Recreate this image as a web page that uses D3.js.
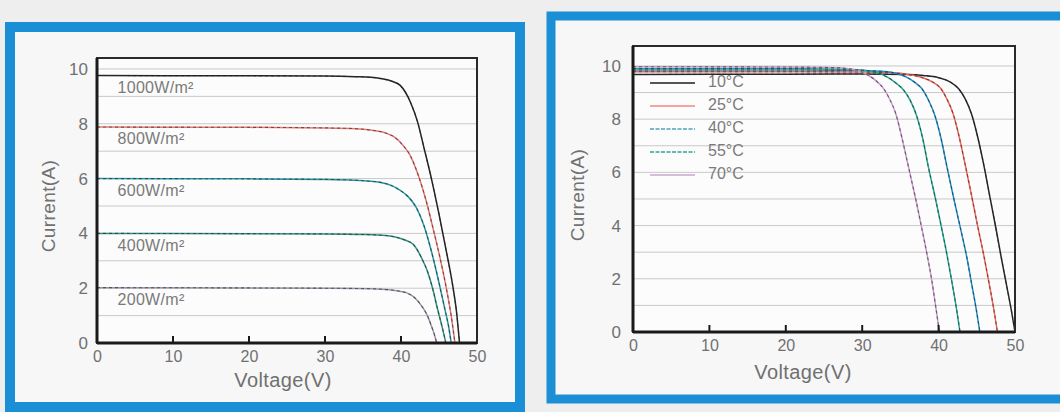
<!DOCTYPE html>
<html><head><meta charset="utf-8">
<script src="https://cdn.jsdelivr.net/npm/d3@7"></script>
<style>
html,body{margin:0;padding:0;background:#ececec;}
svg{display:block;font-family:"Liberation Sans",Arial,sans-serif;}
</style></head>
<body><svg id="c" width="1060" height="412"></svg>
<script>
// ---------- data ----------
const voltageTicks = [0, 10, 20, 30, 40, 50];
const currentTicks = [0, 2, 4, 6, 8, 10];
const gridValues = [1, 2, 3, 4, 5, 6, 7, 8, 9, 10];

const irradianceLabels = ["1000W/m²", "800W/m²", "600W/m²", "400W/m²", "200W/m²"];
const irradianceIsc = [9.76, 7.88, 6.0, 4.0, 2.02];
const irr1000 = [[0,9.76],[20,9.75],[30,9.74],[34,9.72],[36,9.7],[37.5,9.64],[38.8,9.55],[39.9,9.4],[41.3,8.75],[42.2,8.05],[43,7.15],[44,6.0],[45,4.7],[46,3.3],[46.8,2.1],[47.3,1.15],[47.7,0]];
const irr800 = [[0,7.88],[20,7.87],[30,7.85],[34,7.82],[36,7.77],[37.8,7.68],[39.2,7.5],[40.3,7.2],[41.2,6.85],[42.3,6.1],[43.3,5.2],[44.2,4.2],[45.1,3.15],[46,1.95],[46.6,1.0],[47.1,0]];
const irr600 = [[0,6.0],[20,5.99],[30,5.97],[34,5.94],[36,5.9],[37.5,5.85],[38.7,5.75],[40,5.55],[40.9,5.35],[42,4.95],[43,4.3],[44,3.35],[45,2.2],[45.8,1.2],[46.3,0.55],[46.6,0]];
const irr400 = [[0,4.0],[20,3.99],[30,3.98],[35,3.96],[38,3.92],[39.5,3.85],[40.5,3.76],[41.6,3.6],[42.8,3.05],[43.5,2.6],[44.2,1.95],[44.8,1.25],[45.4,0.6],[45.9,0]];
const irr200 = [[0,2.02],[20,2.01],[30,2.0],[36,1.98],[38.5,1.94],[40,1.88],[41,1.8],[42,1.6],[42.8,1.32],[43.5,0.98],[44,0.62],[44.4,0.3],[44.7,0]];
const irradianceColors = ["#262626", "#e8776f", "#2497a6", "#2f8f80", "#9d92a8"];

const temperatureLabels = ["10°C", "25°C", "40°C", "55°C", "70°C"];
const temp10 = [[0,9.68],[20,9.69],[30,9.7],[36,9.68],[38,9.64],[40,9.56],[41.5,9.4],[42.6,9.15],[43.5,8.75],[44.3,8.2],[45.1,7.35],[45.9,6.3],[46.7,5.1],[47.5,3.9],[48.2,2.8],[48.9,1.75],[49.5,0.85],[50,0]];
const temp25 = [[0,9.78],[20,9.78],[30,9.77],[34,9.74],[36,9.68],[38,9.55],[39.2,9.4],[40.3,9.15],[41.1,8.75],[41.9,8.2],[42.6,7.45],[43.4,6.4],[44.3,5.15],[45.1,4.0],[45.9,2.9],[46.6,1.85],[47.2,0.9],[47.7,0]];
const temp40 = [[0,9.85],[20,9.85],[30,9.83],[33,9.79],[34.5,9.72],[35.8,9.58],[36.9,9.38],[37.8,9.15],[38.7,8.7],[39.5,8.15],[40.3,7.3],[41.1,6.2],[42,5.0],[42.9,3.85],[43.7,2.8],[44.3,1.85],[44.9,0.9],[45.4,0]];
const temp55 = [[0,9.9],[20,9.9],[28,9.88],[30.5,9.83],[32,9.74],[33.3,9.58],[34.4,9.36],[35.4,9.1],[36.3,8.7],[37.1,8.15],[37.9,7.3],[38.7,6.15],[39.6,5.0],[40.4,3.9],[41.1,2.9],[41.7,1.95],[42.3,0.95],[42.8,0]];
const temp70 = [[0,9.97],[20,9.96],[26,9.94],[28,9.9],[29.5,9.82],[30.8,9.65],[31.9,9.42],[32.8,9.15],[33.6,8.75],[34.4,8.2],[35.2,7.3],[36.1,6.15],[37,5.0],[37.8,3.9],[38.5,2.9],[39.1,1.95],[39.6,1.0],[40.1,0]];
const temperatureColors = ["#2a2a2a", "#f0645a", "#1f8fc8", "#1fa68f", "#c99bcc"];
const legendColors = ["#555555", "#f08a80", "#4aa3b5", "#2aa596", "#c9a9cf"];

// ---------- drawing ----------
const svg = d3.select("#c");
svg.append("rect").attr("x",0).attr("y",0).attr("width",1060).attr("height",412).attr("fill","#eeeeee");

// blue frames
svg.append("rect").attr("x",10).attr("y",27).attr("width",510).attr("height",380)
  .attr("fill","#f7f7f7").attr("stroke","#1b8fd6").attr("stroke-width",10);
svg.append("rect").attr("x",551).attr("y",16).attr("width",515).attr("height",383)
  .attr("fill","#f7f7f7").attr("stroke","#1b8fd6").attr("stroke-width",9);

const textColor = "#707070";

function drawPanel(cfg) {
  const x = d3.scaleLinear().domain([0,50]).range(cfg.xr);
  const y = d3.scaleLinear().domain([0,cfg.ymax]).range(cfg.yr);
  const g = svg.append("g");
  const [x0,x1] = cfg.xr, [y0,y1] = cfg.yr;
  g.append("rect").attr("x",x0).attr("y",y1).attr("width",x1-x0).attr("height",y0-y1).attr("fill","#fcfcfc");
  g.selectAll("line.grid").data(gridValues).join("line")
    .attr("x1",x0).attr("x2",x1).attr("y1",d=>y(d)).attr("y2",d=>y(d))
    .attr("stroke","#c9c9c9").attr("stroke-width",1);
  const line = d3.line().x(d=>x(d[0])).y(d=>y(d[1])).curve(d3.curveMonotoneX);
  cfg.series.forEach((s,i)=>{
    g.append("path").attr("d",line(s)).attr("fill","none")
      .attr("stroke",cfg.colors[i]).attr("stroke-width",1.5);
    g.append("path").attr("d",line(s)).attr("fill","none")
      .attr("stroke","#1e1e1e").attr("stroke-width",1.1).attr("stroke-opacity",0.55)
      .attr("stroke-dasharray","3,3");
  });
  g.append("rect").attr("x",x0).attr("y",y1).attr("width",x1-x0).attr("height",y0-y1)
    .attr("fill","none").attr("stroke","#2a2a2a").attr("stroke-width",2);
  g.append("line").attr("x1",x0).attr("x2",x0).attr("y1",y1).attr("y2",y0).attr("stroke","#1a1a1a").attr("stroke-width",3);
  g.append("line").attr("x1",x0).attr("x2",x1).attr("y1",y0).attr("y2",y0).attr("stroke","#1a1a1a").attr("stroke-width",3);
  const xa = g.append("g").attr("transform",`translate(0,${y0})`)
    .call(d3.axisBottom(x).tickValues(voltageTicks).tickSize(0).tickPadding(cfg.xpad));
  xa.select(".domain").remove();
  xa.attr("font-size",16).attr("font-family","Liberation Sans, Arial");
  xa.selectAll("text").attr("fill",textColor);
  g.selectAll("line.xt").data(voltageTicks.slice(1,5)).join("line")
    .attr("x1",d=>x(d)).attr("x2",d=>x(d)).attr("y1",y0).attr("y2",y0-7)
    .attr("stroke","#1a1a1a").attr("stroke-width",2);
  const ya = g.append("g").attr("transform",`translate(${x0},0)`)
    .call(d3.axisLeft(y).tickValues(currentTicks).tickSize(0).tickPadding(cfg.ypad));
  ya.select(".domain").remove();
  ya.attr("font-size",17).attr("font-family","Liberation Sans, Arial");
  ya.selectAll("text").attr("fill",textColor);
  g.append("text").attr("x",cfg.xtitle[0]).attr("y",cfg.xtitle[1]).attr("text-anchor","middle")
    .attr("dominant-baseline","middle").attr("fill",textColor).attr("font-size",20)
    .attr("letter-spacing",0.4).text("Voltage(V)");
  g.append("text").attr("transform",`translate(${cfg.ytitle[0]},${cfg.ytitle[1]}) rotate(-90)`)
    .attr("text-anchor","middle").attr("dominant-baseline","middle").attr("fill",textColor)
    .attr("font-size",19).attr("letter-spacing",0.4).text("Current(A)");
  return {g,x,y};
}

const left = drawPanel({
  xr:[97,477], yr:[343,58], ymax:10.4, xpad:8, ypad:9,
  series:[irr1000,irr800,irr600,irr400,irr200], colors:irradianceColors,
  xtitle:[283,382], ytitle:[50,206]
});
left.g.selectAll("text.lab").data(irradianceLabels).join("text")
  .attr("x",left.x(2.7)).attr("y",(d,i)=>left.y(irradianceIsc[i])+13)
  .attr("dominant-baseline","middle").attr("fill","#7a7a7a").attr("font-size",16)
  .attr("letter-spacing",0.3).text(d=>d);

const right = drawPanel({
  xr:[633,1015], yr:[332,46], ymax:10.75, xpad:8, ypad:12,
  series:[temp10,temp25,temp40,temp55,temp70], colors:temperatureColors,
  xtitle:[803,374], ytitle:[579,195]
});
const lg = right.g.selectAll("g.lg").data(temperatureLabels).join("g")
  .attr("transform",(d,i)=>`translate(650,${83+23*i})`);
lg.append("line").attr("x1",0).attr("x2",45).attr("y1",0).attr("y2",0)
  .attr("stroke",(d,i)=>legendColors[i]).attr("stroke-width",(d,i)=>i===0?2.2:1.4)
  .attr("stroke-dasharray",(d,i)=>(i===2||i===3)?"4,1.5":null);
lg.append("text").attr("x",58).attr("y",0).attr("dominant-baseline","middle")
  .attr("fill","#7a7a7a").attr("font-size",16).text(d=>d);
</script></body></html>
